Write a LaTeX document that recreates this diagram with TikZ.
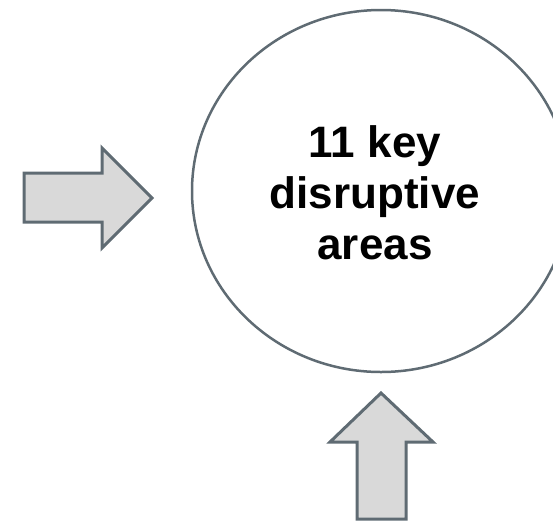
\documentclass[tikz,border=0pt]{standalone}
\usepackage{fontspec}
\setmainfont{Liberation Sans}
\usetikzlibrary{shapes.geometric}

\definecolor{edge}{HTML}{5F6B73}
\definecolor{arrowfill}{HTML}{D9D9D9}

\begin{document}
\begin{tikzpicture}[x=1pt, y=-1pt,
    bigarrow/.style={draw=edge, fill=arrowfill, line width=3pt, line join=miter}]
      \useasboundingbox (0,0) rectangle (553,523);
      \node[draw=edge, line width=2.5pt, ellipse, minimum width=378pt, minimum height=362pt] (areas) at (381,191) {};
      \node[align=center, font=\bfseries\fontsize{44}{51}\selectfont] (title) at (375,193)
            {11 key\\disruptive\\areas};
      % arrow from the left
      \draw[bigarrow] (24,173) -- (102,173) -- (102,148) -- (152,198) -- (102,248)
            -- (102,222) -- (24,222) -- cycle;
      % arrow from below
      \draw[bigarrow] (357,519) -- (357,442) -- (330,442) -- (381,393) -- (433,442)
            -- (406,442) -- (406,519) -- cycle;
    \end{tikzpicture}
\end{document}
